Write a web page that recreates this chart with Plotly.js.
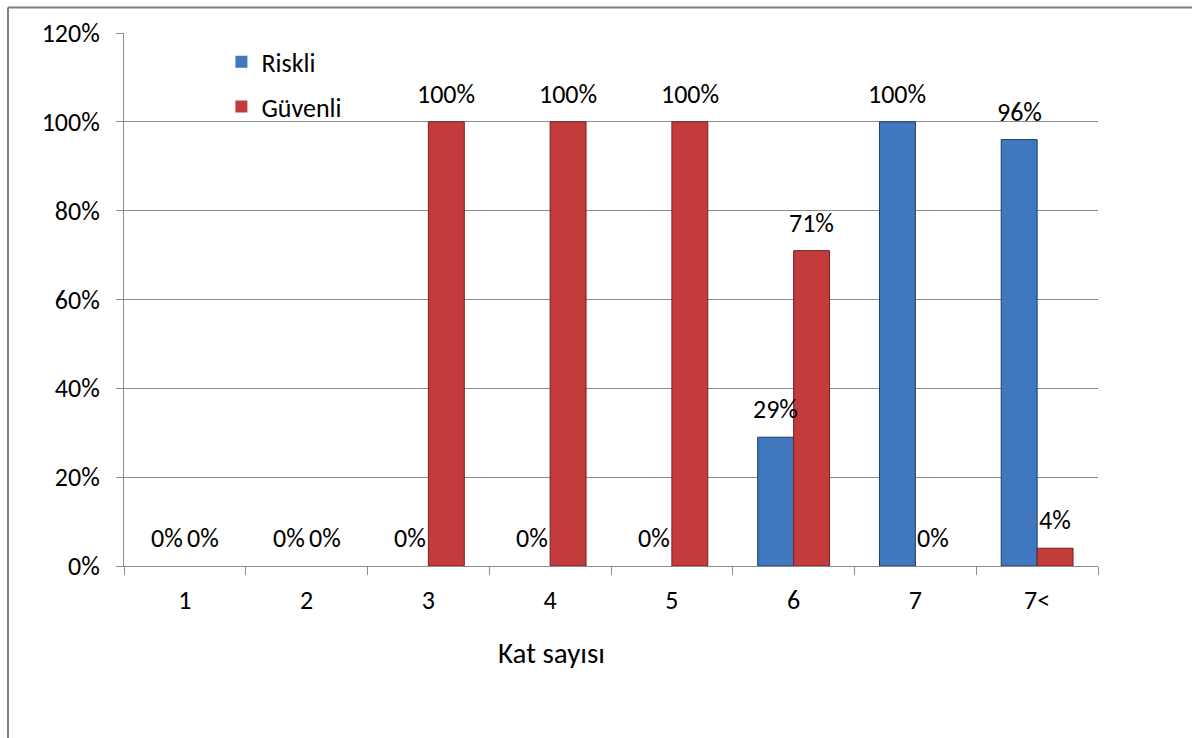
<!DOCTYPE html>
<html>
<head>
<meta charset="utf-8">
<script src="https://cdn.plot.ly/plotly-3.0.1.min.js"></script>
<style>html,body{margin:0;padding:0;background:#fff;}#chart{width:1192px;height:738px;}</style>
</head>
<body>
<div id="chart"></div>
<script>
// Data
const categories = ['1', '2', '3', '4', '5', '6', '7', '7<'];
const riskli = [0, 0, 0, 0, 0, 0.29, 1.00, 0.96];
const guvenli = [0, 0, 1.00, 1.00, 1.00, 0.71, 0, 0.04];
const seriesNames = ['Riskli', 'Güvenli'];
const xTitle = 'Kat sayısı';

const FONT = "Carlito, 'DejaVu Sans Condensed', 'Noto Sans', sans-serif";
const FS = 26;
const grey = '#8c8c8c';

const traces = [
  {type: 'bar', name: seriesNames[0], x: categories, y: riskli, legendgroup: 'a',
   marker: {color: '#3f78bf', line: {color: '#1f3d63', width: riskli.map(v => v > 0 ? 1 : 0)}}, hoverinfo: 'none'},
  {type: 'bar', name: seriesNames[1], x: categories, y: guvenli, legendgroup: 'b',
   marker: {color: '#c33c3c', line: {color: '#7a1f1f', width: guvenli.map(v => v > 0 ? 1 : 0)}}, hoverinfo: 'none'}
];

const annotations = [];
[riskli, guvenli].forEach((vals, si) => {
  vals.forEach((v, j) => {
    annotations.push({
      x: j, y: v, xref: 'x', yref: 'y',
      text: Math.round(v * 100) + '%', showarrow: false,
      xanchor: 'center', yanchor: 'bottom',
      xshift: si === 0 ? -18 : 18, yshift: 10,
      font: {family: FONT, size: FS, color: '#000'}
    });
  });
});
annotations.push({
  text: xTitle, xref: 'paper', yref: 'paper', x: 0.4394, y: -0.1626,
  xanchor: 'center', yanchor: 'middle', showarrow: false,
  font: {family: FONT, size: 29, color: '#000'}
});

const layout = {
  width: 1192, height: 738,
  margin: {l: 124, r: 94, t: 33, b: 172},
  paper_bgcolor: '#fff', plot_bgcolor: '#fff',
  font: {family: FONT, size: FS, color: '#000'},
  barmode: 'group', bargap: 0.41, bargroupgap: 0,
  showlegend: true,
  legend: {x: 0.1, y: 0.99, xanchor: 'left', yanchor: 'top',
           bgcolor: 'rgba(0,0,0,0)', tracegroupgap: 8, itemwidth: 30,
           font: {family: FONT, size: FS, color: '#000'}},
  xaxis: {type: 'category', tickson: 'boundaries', ticks: 'outside', ticklen: 8,
          tickcolor: grey, showline: true, linecolor: grey, linewidth: 1,
          showgrid: false, ticklabelstandoff: 11, fixedrange: true,
          tickfont: {family: FONT, size: FS, color: '#000'}},
  yaxis: {range: [0, 1.2], dtick: 0.2, tick0: 0, tickformat: '.0%',
          ticks: 'outside', ticklen: 7, tickcolor: grey,
          showline: true, linecolor: grey, linewidth: 1,
          showgrid: true, gridcolor: grey, gridwidth: 1, zeroline: false,
          ticklabelstandoff: 11, fixedrange: true,
          tickfont: {family: FONT, size: FS, color: '#000'}},
  annotations: annotations,
  shapes: [
    {type: 'line', xref: 'paper', yref: 'paper', x0: -0.1191, x1: -0.1191, y0: 1.048, y1: -0.33,
     line: {color: '#7f7f7f', width: 2}},
    {type: 'line', xref: 'paper', yref: 'paper', x0: -0.1191, x1: 1.1, y0: 1.048, y1: 1.048,
     line: {color: '#7f7f7f', width: 2}}
  ]
};

Plotly.newPlot('chart', traces, layout, {displayModeBar: false, staticPlot: true});
</script>
</body>
</html>
